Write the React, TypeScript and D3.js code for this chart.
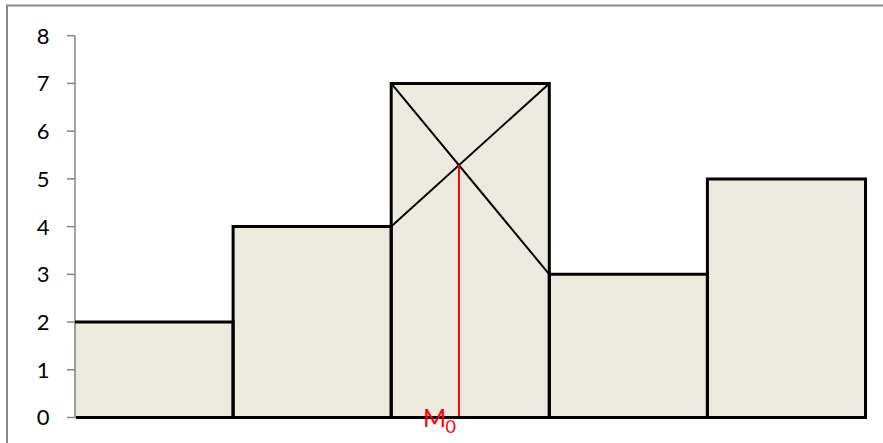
import React from "react";
import * as d3 from "d3";

const binEdges = [0, 1, 2, 3, 4, 5];
const frequencies = [2, 4, 7, 3, 5];
const yTicks = [0, 1, 2, 3, 4, 5, 6, 7, 8];
const modeIndex = 2;
const modeLabel = "M";
const modeSub = "0";

const W = 883;
const H = 443;
const FONT = "Lato, 'Open Sans', sans-serif";

export default function App() {
  const x = d3.scaleLinear().domain([0, 5]).range([75, 865.5]);
  const y = d3.scaleLinear().domain([0, 8]).range([417.5, 35.7]);

  const fill = "#ECE9DF";

  // mode construction lines
  const x0 = x(binEdges[modeIndex]);
  const x1 = x(binEdges[modeIndex + 1]);
  const fPrev = frequencies[modeIndex - 1];
  const fMode = frequencies[modeIndex];
  const fNext = frequencies[modeIndex + 1];
  const ay0 = y(fMode), ay1 = y(fNext);
  const by0 = y(fPrev), by1 = y(fMode);
  const t = (by0 - ay0) / ((ay1 - ay0) - (by1 - by0));
  const ix = x0 + t * (x1 - x0);
  const iy = ay0 + t * (ay1 - ay0);

  return (
    <div style={{ position: "absolute", left: 0, top: 0 }}>
      <svg width={W} height={H} style={{ display: "block" }}>
        <rect x={0} y={0} width={W} height={H} fill="#fff" />
        <rect x={7} y={5.5} width={W + 20} height={H + 20} fill="none" stroke="#878787" strokeWidth={2} />

        {frequencies.map((f, i) => (
          <rect
            key={"f" + i}
            x={x(binEdges[i])}
            y={y(f)}
            width={x(binEdges[i + 1]) - x(binEdges[i])}
            height={y(0) - y(f)}
            fill={fill}
            stroke="#c8c6bd"
            strokeWidth={1}
          />
        ))}

        <line x1={75} x2={75} y1={y(8)} y2={y(0)} stroke="#868686" strokeWidth={1.5} />
        {yTicks.map((v) => (
          <g key={"t" + v}>
            <line x1={67} x2={75} y1={y(v)} y2={y(v)} stroke="#868686" strokeWidth={1.5} />
            <text
              x={49.5}
              y={y(v)}
              dy="0.36em"
              textAnchor="end"
              fontFamily={FONT}
              fontSize={22}
              fill="#000"
            >
              {v}
            </text>
          </g>
        ))}

        {frequencies.map((f, i) => {
          const l = x(binEdges[i]);
          const r = x(binEdges[i + 1]);
          const top = y(f);
          const b = y(0);
          const d =
            i === 0
              ? `M${l},${top}L${r},${top}L${r},${b}`
              : `M${l},${b}L${l},${top}L${r},${top}L${r},${b}`;
          return (
            <path key={"o" + i} d={d} fill="none" stroke="#000" strokeWidth={3} strokeLinejoin="miter" />
          );
        })}
        <line x1={76} x2={x(5) + 1.5} y1={y(0)} y2={y(0)} stroke="#000" strokeWidth={3} />

        <line x1={x0} y1={ay0} x2={x1} y2={ay1} stroke="#000" strokeWidth={2} />
        <line x1={x0} y1={by0} x2={x1} y2={by1} stroke="#000" strokeWidth={2} />
        <line x1={ix} y1={iy} x2={ix} y2={y(0) - 1.5} stroke="#FF0000" strokeWidth={2} />

        <text x={423} y={427} fontFamily={FONT} fontSize={25} fill="#FF0000">
          {modeLabel}
        </text>
        <text x={445.5} y={433} fontFamily={FONT} fontSize={18} fill="#FF0000">
          {modeSub}
        </text>
      </svg>
    </div>
  );
}
